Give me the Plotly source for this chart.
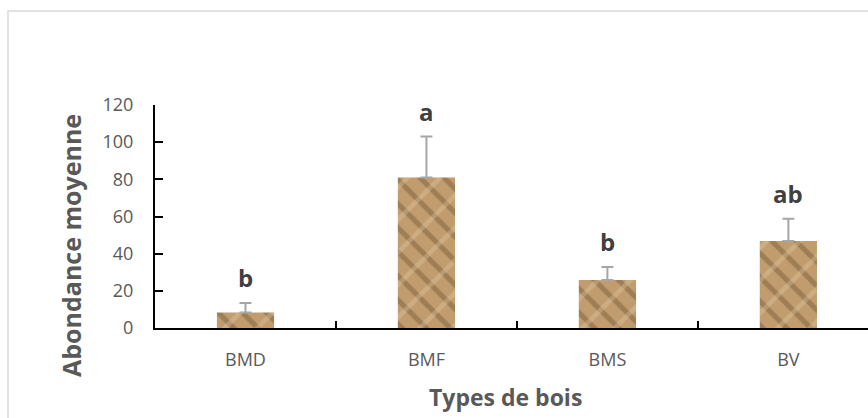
import plotly.graph_objects as go

categories = ["BMD", "BMF", "BMS", "BV"]
means = [8.4, 81.0, 25.8, 46.8]
errors = [5.0, 22.0, 7.0, 12.0]
letters = ["b", "a", "b", "ab"]
y_ticks = [0, 20, 40, 60, 80, 100, 120]

W, H = 868, 418
ML, MR, MT, MB = 155, 0, 105, 90
PW, PH = W - ML - MR, H - MT - MB


def px_x(p):
    return (p - ML) / PW


def px_y(p):
    return (H - MB - p) / PH


fig = go.Figure()

# textured bar: tan base with dark diagonal streaks
fig.add_trace(go.Bar(
    x=categories, y=means, width=0.316,
    marker=dict(color="#c09c6e", line=dict(width=0),
                pattern=dict(shape="\\", fgcolor="#6e4f30", fgopacity=0.4,
                             size=17, solidity=0.3)),
    error_y=dict(type="data", array=errors, arrayminus=[0] * len(errors),
                 symmetric=False, color="#a6a6a6", thickness=2, width=6),
    hoverinfo="x+y", showlegend=False,
))
# light streak overlay
fig.add_trace(go.Bar(
    x=categories, y=means, width=0.316,
    marker=dict(color="rgba(0,0,0,0)", line=dict(width=0),
                pattern=dict(shape="/", fgcolor="#ead4ae", fgopacity=0.3,
                             size=23, solidity=0.2, fillmode="overlay")),
    hoverinfo="skip", showlegend=False,
))

for c, m, e, t in zip(categories, means, errors, letters):
    fig.add_annotation(x=c, y=m + e, text=f"<b>{t}</b>", showarrow=False,
                       yanchor="bottom", yshift=7,
                       font=dict(family="Open Sans", size=24, color="#404040"))

fig.add_annotation(xref="paper", yref="paper", x=px_x(71), y=px_y(246),
                   xanchor="center", yanchor="middle",
                   text="<b>Abondance moyenne</b>", textangle=-90, showarrow=False,
                   font=dict(family="Open Sans", size=25, color="#595959"))
fig.add_annotation(xref="paper", yref="paper", x=px_x(505), y=px_y(397),
                   xanchor="center", yanchor="middle",
                   text="<b>Types de bois</b>", showarrow=False,
                   font=dict(family="Open Sans", size=23, color="#595959"))

# chart frame
fig.add_shape(type="rect", xref="paper", yref="paper",
              x0=px_x(8), x1=px_x(W + 20), y0=px_y(H + 20), y1=px_y(11),
              line=dict(color="#d9d9d9", width=1.5), layer="below")

fig.update_layout(
    width=W, height=H,
    margin=dict(l=ML, r=MR, t=MT, b=MB, pad=0),
    paper_bgcolor="white", plot_bgcolor="white",
    barmode="overlay",
    font=dict(family="Open Sans", color="#595959"),
)
fig.update_xaxes(
    type="category", range=[-0.5, 3.44],
    showline=True, linecolor="black", linewidth=2,
    ticks="inside", ticklen=7, tickwidth=2, tickcolor="black",
    tickson="boundaries", showgrid=False, zeroline=False,
    tickfont=dict(family="Open Sans", size=18, color="#595959"),
    ticklabelstandoff=14,
)
fig.update_yaxes(
    range=[0, 120], tickvals=y_ticks, ticktext=[str(v) for v in y_ticks],
    showline=True, linecolor="black", linewidth=2,
    ticks="inside", ticklen=8, tickwidth=2, tickcolor="black",
    showgrid=False, zeroline=False,
    tickfont=dict(family="Open Sans", size=18, color="#595959"),
    ticklabelstandoff=16,
)

fig.write_html("out.html", config={"displayModeBar": False},
               post_script="document.body.style.margin='0';document.body.style.overflow='hidden';")
